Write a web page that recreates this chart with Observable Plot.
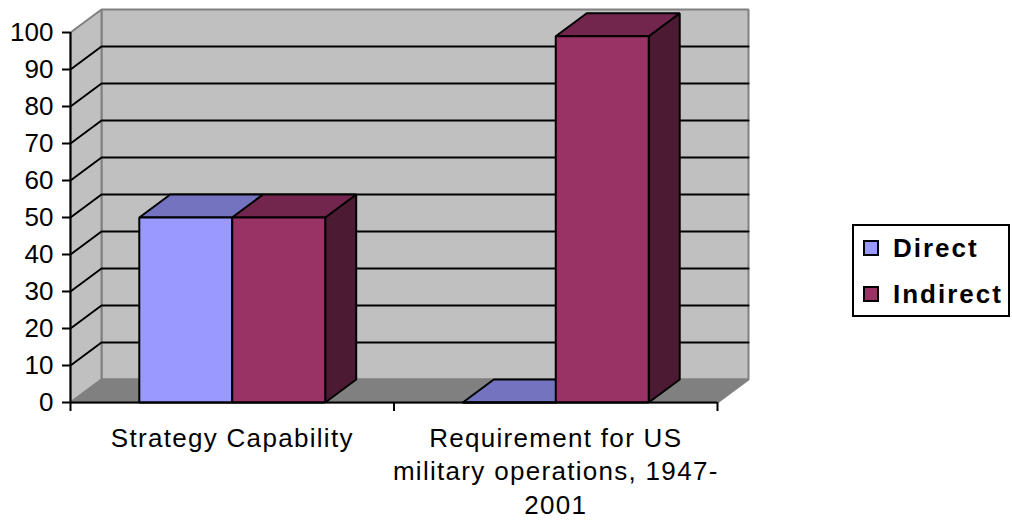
<!DOCTYPE html>
<html>
<head>
<meta charset="utf-8">
<script src="https://cdn.jsdelivr.net/npm/d3@7"></script>
<script src="https://cdn.jsdelivr.net/npm/@observablehq/plot@0.6"></script>
<style>
  body { margin: 0; background: #fff; font-family: "Liberation Sans", Arial, sans-serif; }
  #wrap { position: relative; width: 1012px; height: 520px; overflow: hidden; }
  #wrap svg g[aria-label="text"] text { letter-spacing: 1.3px; }
  #legend { position: absolute; left: 852px; top: 224px; width: 158px; height: 93px;
            box-sizing: border-box; border: 2px solid #000; background: #fff; }
  .sw { position: absolute; left: 9px; width: 16px; height: 16px; box-sizing: border-box; border: 2px solid #000; }
  .lt { position: absolute; left: 39px; font: bold 26px/26px "Liberation Sans", Arial, sans-serif;
        letter-spacing: 2px; color: #000; white-space: nowrap; }
</style>
</head>
<body>
<div id="wrap"></div>
<script>
// ---- data ----
const categories = ["Strategy Capability", "Requirement for US\nmilitary operations, 1947-\n2001"];
const series = ["Direct", "Indirect"];
const directValues = [50, 0];
const indirectValues = [50, 99];
const yTicks = [0, 10, 20, 30, 40, 50, 60, 70, 80, 90, 100];

// ---- styles ----
const faceColors = {
  Direct:   { front: "#9999FF", top: "#7373BF", side: "#4D4D80" },
  Indirect: { front: "#993366", top: "#73264D", side: "#4D1A33" }
};
const wallColor = "#C0C0C0", floorColor = "#808080", edgeColor = "#808080";

// ---- layout ----
const W = 1012, H = 520;
const mL = 70, mR = W - 717, mT = 32, mB = H - 402;
const xPxPerUnit = (W - mL - mR) / categories.length;
const yPxPerUnit = (H - mT - mB) / 100;
const DX = 31 / xPxPerUnit;   // depth offset in x units
const DY = 23 / yPxPerUnit;   // depth offset in y units
const nCat = categories.length;

const valuesBySeries = { Direct: directValues, Indirect: indirectValues };
const band = d3.scaleBand().domain(series).range([0, 1]).paddingInner(0).paddingOuter(0.74);

function poly(id, fill, pts) { return pts.map(([x, y]) => ({ id, fill, x, y })); }

// walls & floor
const walls = [
  ...poly("back", wallColor, [[DX, DY], [nCat + DX, DY], [nCat + DX, 100 + DY], [DX, 100 + DY]]),
  ...poly("left", wallColor, [[0, 0], [DX, DY], [DX, 100 + DY], [0, 100]]),
  ...poly("floor", floorColor, [[0, 0], [DX, DY], [nCat + DX, DY], [nCat, 0]])
];

// gridlines
const grid = [];
yTicks.filter(v => v > 0 && v < 100).forEach(v => {
  grid.push({ id: "g" + v, x: 0, y: v }, { id: "g" + v, x: DX, y: v + DY }, { id: "g" + v, x: nCat + DX, y: v + DY });
});

// bars
const bars = [];
categories.forEach((c, i) => {
  series.forEach(s => {
    const v = valuesBySeries[s][i];
    const x0 = i + band(s), x1 = x0 + band.bandwidth();
    const col = faceColors[s];
    const id = s + i;
    bars.push(...poly(id + "side", col.side, [[x1, 0], [x1 + DX, DY], [x1 + DX, v + DY], [x1, v]]));
    bars.push(...poly(id + "top", col.top, [[x0, v], [x0 + DX, v + DY], [x1 + DX, v + DY], [x1, v]]));
    bars.push(...poly(id + "front", col.front, [[x0, 0], [x1, 0], [x1, v], [x0, v]]));
  });
});

const chart = Plot.plot({
  width: W, height: H,
  marginLeft: mL, marginRight: mR, marginTop: mT, marginBottom: mB,
  x: { domain: [0, nCat], axis: null },
  y: { domain: [0, 100], axis: null },
  color: { type: "identity" },
  style: { fontFamily: '"Liberation Sans", Arial, sans-serif', color: "#000", background: "#fff", overflow: "visible" },
  marks: [
    Plot.line(walls, { x: "x", y: "y", z: "id", fill: "fill", stroke: edgeColor, strokeWidth: 2, curve: "linear-closed", strokeLinejoin: "miter" }),
    Plot.line(grid, { x: "x", y: "y", z: "id", stroke: "#000", strokeWidth: 2, strokeLinejoin: "miter" }),
    Plot.line(bars, { x: "x", y: "y", z: "id", fill: "fill", stroke: "#000", strokeWidth: 2, curve: "linear-closed", strokeLinejoin: "miter" }),
    Plot.ruleX([0], { y1: 0, y2: 100, stroke: "#000", strokeWidth: 2 }),
    Plot.ruleY([0], { x1: 0, x2: nCat, stroke: "#000", strokeWidth: 2 }),
    Plot.axisY({ ticks: yTicks, tickSize: 8, tickPadding: 9, fontSize: 26, label: null, strokeWidth: 2, tickFormat: d => String(d) }),
    Plot.axisX({ ticks: d3.range(nCat + 1), tickSize: 9, tickFormat: () => "", label: null, strokeWidth: 2 }),
    Plot.text(categories, { x: (d, i) => i + 0.5, y: () => 0, text: d => d, dy: 20.5, lineAnchor: "top", fontSize: 26, lineHeight: 1.29, fill: "#000" })
  ]
});

const wrap = document.getElementById("wrap");
wrap.appendChild(chart);

// legend
const legend = document.createElement("div");
legend.id = "legend";
const legendLayout = [{ sw: 14, tx: 9 }, { sw: 60, tx: 55 }];
series.forEach((s, i) => {
  const sw = document.createElement("div");
  sw.className = "sw";
  sw.style.top = legendLayout[i].sw + "px";
  sw.style.background = faceColors[s].front;
  const t = document.createElement("div");
  t.className = "lt";
  t.style.top = legendLayout[i].tx + "px";
  t.textContent = s;
  legend.appendChild(sw);
  legend.appendChild(t);
});
wrap.appendChild(legend);
</script>
</body>
</html>
